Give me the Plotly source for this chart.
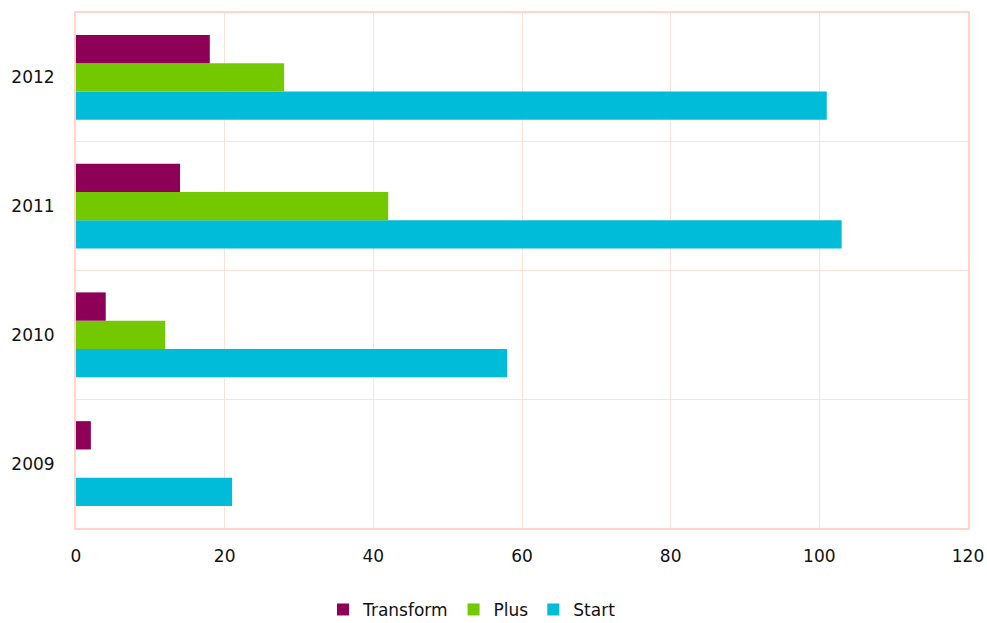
import plotly.graph_objects as go

years = ["2009", "2010", "2011", "2012"]
start = [21, 58, 103, 101]
plus = [0, 12, 42, 28]
transform = [2, 4, 14, 18]

colors = {"Start": "#00BCD9", "Plus": "#73C800", "Transform": "#8E0057"}

fig = go.Figure()
for name, vals in [("Start", start), ("Plus", plus), ("Transform", transform)]:
    fig.add_trace(go.Bar(
        y=years, x=vals, name=name, orientation="h",
        marker=dict(color=colors[name], line=dict(width=0)),
    ))

font_family = "DejaVu Sans"
border = "#FFD5C8"
grid = "#FDE1D8"

fig.update_layout(
    width=987, height=623,
    margin=dict(l=76, r=19, t=13, b=95, autoexpand=False),
    barmode="group", bargap=0.34, bargroupgap=0,
    plot_bgcolor="white", paper_bgcolor="white",
    font=dict(family=font_family, size=16, color="#111111"),
    legend=dict(
        orientation="h", traceorder="reversed",
        yref="container", y=0.021, yanchor="middle",
        xref="container", x=472 / 987, xanchor="center",
        font=dict(size=17),
    ),
    xaxis=dict(
        range=[0, 120], dtick=20, showgrid=True, gridcolor=grid, gridwidth=1,
        showline=True, mirror=True, linecolor=border, linewidth=2,
        zeroline=False, ticks="", ticklabelstandoff=12, automargin=False,
        tickfont=dict(size=17),
    ),
    yaxis=dict(
        type="category", categoryorder="array", categoryarray=years,
        tickson="boundaries", showgrid=True, gridcolor=grid, gridwidth=1,
        showline=True, mirror=True, linecolor=border, linewidth=2,
        ticks="", ticklabelstandoff=16, automargin=False,
        tickfont=dict(size=17),
    ),
)

fig.write_html("out.html")
